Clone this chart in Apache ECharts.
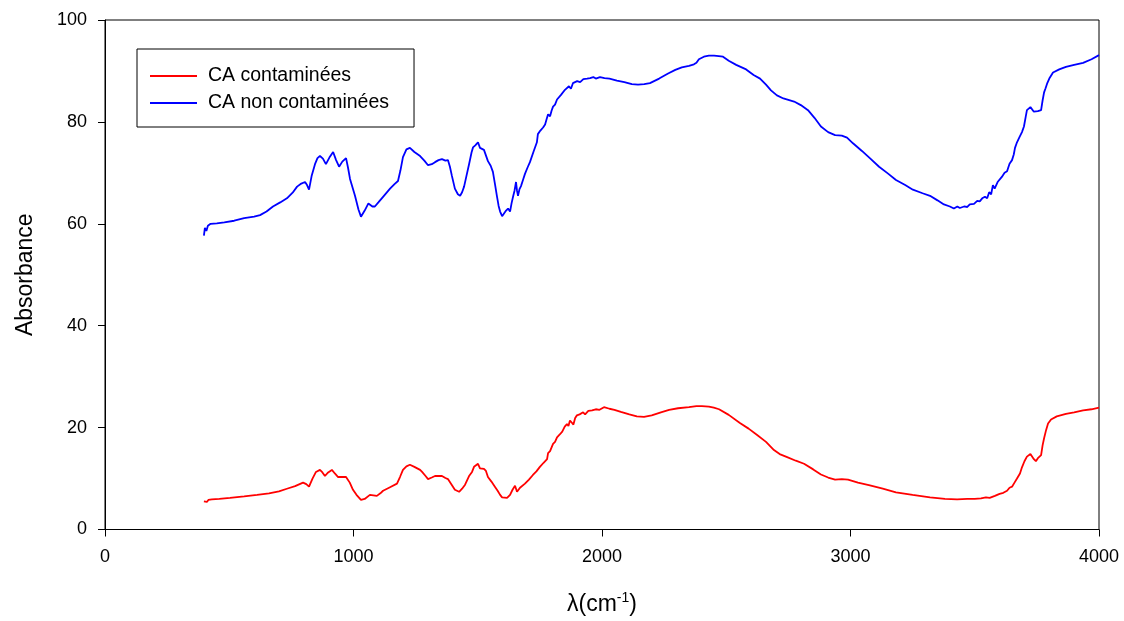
<!DOCTYPE html>
<html>
<head>
<meta charset="utf-8">
<script src="https://cdn.jsdelivr.net/npm/echarts@6/dist/echarts.min.js"></script>
<style>
  html, body { margin: 0; padding: 0; background: #fff; }
  #spectrum-chart { width: 1124px; height: 621px; }
</style>
</head>
<body>
<div id="spectrum-chart"></div>
<script>
// series names as in the legend
var seriesNames = ["CA contaminées", "CA non contaminées"];

// [wavenumber cm-1, absorbance]
var contaminated = [
  [398,5.5],[404,5.8],[410,5.4],[416,5.8],[430,5.9],[460,6.0],[503,6.2],[560,6.5],[612,6.8],[660,7.1],
  [700,7.5],[732,8.0],[765,8.5],[797,9.2],[810,8.9],[821,8.4],[835,10.0],[849,11.3],[865,11.7],[875,11.2],
  [885,10.5],[898,11.2],[913,11.7],[925,11.0],[938,10.3],[955,10.3],[970,10.3],[985,9.2],[998,7.8],[1012,6.8],
  [1030,5.8],[1045,6.0],[1066,6.8],[1080,6.7],[1094,6.6],[1108,7.1],[1119,7.6],[1147,8.3],[1175,9.0],[1187,10.3],
  [1199,11.7],[1213,12.4],[1227,12.7],[1245,12.3],[1268,11.7],[1276,11.3],[1290,10.5],[1300,9.9],[1315,10.2],[1328,10.5],
  [1356,10.5],[1370,10.1],[1380,9.9],[1395,8.8],[1408,7.8],[1425,7.4],[1437,8.0],[1449,8.8],[1465,10.5],[1477,11.3],
  [1485,12.3],[1493,12.4],[1501,12.9],[1509,12.0],[1517,11.7],[1525,11.9],[1533,11.5],[1541,10.3],[1555,9.4],[1569,8.4],
  [1580,7.6],[1590,6.8],[1598,6.3],[1606,6.0],[1618,6.2],[1630,6.8],[1640,7.8],[1650,8.6],[1654,8.0],[1658,7.4],
  [1670,8.2],[1690,9.0],[1706,9.8],[1722,10.7],[1736,11.4],[1750,12.3],[1765,13.1],[1779,13.8],[1783,15.0],[1791,15.4],
  [1803,16.8],[1811,17.2],[1819,18.1],[1825,17.8],[1831,18.7],[1840,19.2],[1850,20.2],[1859,20.7],[1865,20.3],[1871,21.4],
  [1878,21.0],[1885,20.6],[1892,21.9],[1899,22.4],[1910,22.6],[1924,23.0],[1932,22.6],[1945,23.3],[1960,23.4],[1975,23.6],
  [1990,23.5],[2008,24.0],[2030,23.7],[2050,23.5],[2076,23.1],[2110,22.6],[2140,22.2],[2169,22.1],[2200,22.4],[2237,23.0],
  [2270,23.5],[2306,23.8],[2350,24.0],[2380,24.2],[2402,24.2],[2430,24.1],[2450,23.9],[2471,23.6],[2510,22.5],[2555,20.9],
  [2590,19.8],[2623,18.6],[2660,17.2],[2692,15.6],[2715,14.8],[2745,14.2],[2780,13.5],[2813,12.9],[2850,11.8],[2881,10.8],
  [2910,10.2],[2938,9.8],[2965,9.9],[2990,9.8],[3030,9.2],[3074,8.7],[3130,8.0],[3183,7.3],[3250,6.8],[3320,6.3],
  [3380,6.0],[3429,5.9],[3470,6.0],[3500,6.0],[3525,6.1],[3545,6.3],[3560,6.2],[3581,6.6],[3600,7.0],[3615,7.2],
  [3630,7.6],[3640,8.2],[3650,8.4],[3660,9.2],[3670,10.0],[3682,11.0],[3690,12.2],[3700,13.4],[3710,14.3],[3718,14.0],
  [3724,14.8],[3730,14.6],[3738,13.8],[3746,13.4],[3754,14.0],[3767,14.6],[3773,16.5],[3779,17.9],[3787,19.5],[3795,20.8],
  [3807,21.6],[3830,22.2],[3867,22.7],[3900,23.0],[3936,23.4],[3970,23.6],[4000,23.9]
];

var nonContaminated = [
  [398,57.7],[402,59.2],[408,58.6],[414,59.6],[425,60.0],[450,60.1],[480,60.3],[520,60.6],[560,61.1],[600,61.4],
  [624,61.7],[650,62.4],[676,63.4],[705,64.2],[732,65.0],[755,66.1],[773,67.3],[790,67.9],[805,68.2],[813,67.6],
  [821,66.7],[832,69.5],[845,71.7],[855,72.9],[865,73.3],[877,72.8],[889,71.7],[903,73.0],[918,74.1],[930,72.5],
  [942,71.2],[955,72.2],[970,72.9],[978,71.0],[986,68.8],[1006,65.5],[1020,62.8],[1030,61.4],[1045,62.6],[1060,64.0],
  [1066,64.1],[1076,63.4],[1086,63.4],[1100,64.2],[1119,65.3],[1147,66.9],[1165,67.8],[1179,68.4],[1189,70.5],[1199,73.1],
  [1213,74.6],[1227,74.9],[1245,74.1],[1268,73.3],[1285,72.4],[1300,71.5],[1315,71.7],[1328,72.1],[1342,72.5],[1356,72.7],
  [1370,72.4],[1380,72.5],[1388,71.2],[1396,69.4],[1408,66.9],[1420,65.8],[1429,65.5],[1437,66.2],[1445,67.3],[1455,69.5],
  [1465,71.7],[1475,74.0],[1481,75.0],[1490,75.4],[1501,76.0],[1509,74.9],[1517,75.0],[1525,74.5],[1533,74.7],[1541,72.3],
  [1552,71.4],[1561,70.2],[1570,67.6],[1577,65.5],[1584,63.5],[1590,62.4],[1598,61.5],[1606,61.4],[1614,62.6],[1622,63.0],
  [1630,62.4],[1636,64.0],[1642,65.3],[1648,66.5],[1654,68.2],[1658,66.5],[1662,65.5],[1668,66.8],[1674,67.4],[1682,68.6],
  [1690,69.8],[1700,71.0],[1710,72.1],[1724,74.1],[1738,76.0],[1742,77.6],[1752,78.3],[1763,78.9],[1771,79.5],[1777,80.5],
  [1783,81.5],[1791,81.1],[1797,82.2],[1803,83.0],[1811,83.4],[1819,84.4],[1827,84.2],[1835,85.3],[1843,85.0],[1851,86.3],
  [1859,86.0],[1867,87.0],[1875,86.5],[1883,87.6],[1891,87.3],[1900,88.0],[1912,87.8],[1925,88.4],[1940,88.5],[1952,88.6],
  [1965,88.8],[1975,88.5],[1992,88.8],[2010,88.6],[2030,88.5],[2060,88.1],[2090,87.8],[2120,87.4],[2145,87.3],[2170,87.4],
  [2193,87.6],[2230,88.5],[2266,89.5],[2295,90.2],[2321,90.7],[2350,91.0],[2370,91.3],[2380,91.6],[2390,92.3],[2410,92.8],
  [2430,93.0],[2451,93.0],[2470,92.9],[2487,92.8],[2510,92.0],[2540,91.2],[2580,90.3],[2610,89.2],[2636,88.5],[2660,87.3],
  [2680,86.2],[2704,85.2],[2730,84.6],[2773,84.0],[2800,83.3],[2829,82.3],[2855,80.8],[2881,79.1],[2910,78.0],[2938,77.4],
  [2965,77.3],[2986,76.9],[3010,75.8],[3046,74.3],[3080,72.8],[3115,71.2],[3150,69.9],[3183,68.6],[3220,67.6],[3251,66.7],
  [3290,66.0],[3320,65.5],[3350,64.6],[3376,63.8],[3400,63.4],[3416,63.0],[3430,63.4],[3440,63.1],[3457,63.4],[3470,63.3],
  [3480,63.8],[3497,63.9],[3510,64.5],[3520,64.4],[3530,65.0],[3541,65.3],[3550,65.0],[3558,66.2],[3566,65.8],[3573,67.6],
  [3580,66.9],[3585,66.7],[3592,68.2],[3600,68.0],[3609,69.2],[3620,70.0],[3630,70.3],[3640,71.8],[3650,72.5],[3657,73.6],
  [3662,74.9],[3670,76.0],[3680,77.0],[3690,78.0],[3698,79.1],[3705,81.0],[3710,82.3],[3718,82.0],[3724,82.9],[3730,82.8],
  [3738,82.0],[3746,81.9],[3754,82.1],[3760,82.4],[3767,82.3],[3773,84.2],[3779,85.8],[3785,86.6],[3791,87.5],[3800,88.5],
  [3815,89.7],[3840,90.3],[3867,90.8],[3900,91.2],[3936,91.6],[3970,92.3],[4000,93.1]
];

var seriesColors = ["#ff0000", "#0000ff"];

var spectrumDom = document.getElementById("spectrum-chart");
var spectrumChart = echarts.init(spectrumDom);

var axisFont = { color: "#000", fontFamily: "Liberation Sans", fontSize: 18 };

var spectrumOption = {
  animation: false,
  backgroundColor: "#fff",
  grid: {
    left: 105,
    right: 25,
    top: 20,
    bottom: 88,
    show: true,
    borderColor: "#000",
    borderWidth: 1,
  },
  legend: {
    data: seriesNames,
    orient: "vertical",
    left: 137,
    top: 49,
    backgroundColor: "#fff",
    borderColor: "#000",
    borderWidth: 1,
    padding: [17, 25, 14, 13],
    itemGap: 7,
    itemWidth: 47,
    itemHeight: 2,
    icon: "rect",
    textStyle: {
      color: "#000",
      fontFamily: "Liberation Sans",
      fontSize: 19.5,
      lineHeight: 20,
      padding: [0, 0, 0, 6],
    },
  },
  xAxis: {
    type: "value",
    min: 0,
    max: 4000,
    interval: 1000,
    name: "λ(cm{sup|-1})",
    nameLocation: "middle",
    nameGap: 62,
    nameTextStyle: {
      color: "#000",
      fontFamily: "Liberation Sans",
      fontSize: 23,
      rich: {
        sup: { fontSize: 14, verticalAlign: "top", padding: [0, 0, 12, 0] },
      },
    },
    axisLine: { lineStyle: { color: "#000", width: 1 } },
    axisTick: { show: true, inside: false, length: 7, lineStyle: { color: "#000" } },
    axisLabel: Object.assign({
      margin: 19,
      formatter: function (v) { return String(v); },
    }, axisFont),
    splitLine: { show: false },
  },
  yAxis: {
    type: "value",
    min: 0,
    max: 100,
    interval: 20,
    name: "Absorbance",
    nameLocation: "middle",
    nameGap: 68,
    nameTextStyle: { color: "#000", fontFamily: "Liberation Sans", fontSize: 23 },
    axisLine: { lineStyle: { color: "#000", width: 1 } },
    axisTick: { show: true, inside: false, length: 7, lineStyle: { color: "#000" } },
    axisLabel: Object.assign({ margin: 18 }, axisFont),
    splitLine: { show: false },
  },
  series: [
    {
      name: seriesNames[0],
      type: "line",
      data: contaminated,
      showSymbol: false,
      color: seriesColors[0],
      lineStyle: { width: 1.8, color: seriesColors[0] },
    },
    {
      name: seriesNames[1],
      type: "line",
      data: nonContaminated,
      showSymbol: false,
      color: seriesColors[1],
      lineStyle: { width: 1.8, color: seriesColors[1] },
    },
  ],
};

spectrumChart.setOption(spectrumOption);
</script>
</body>
</html>
